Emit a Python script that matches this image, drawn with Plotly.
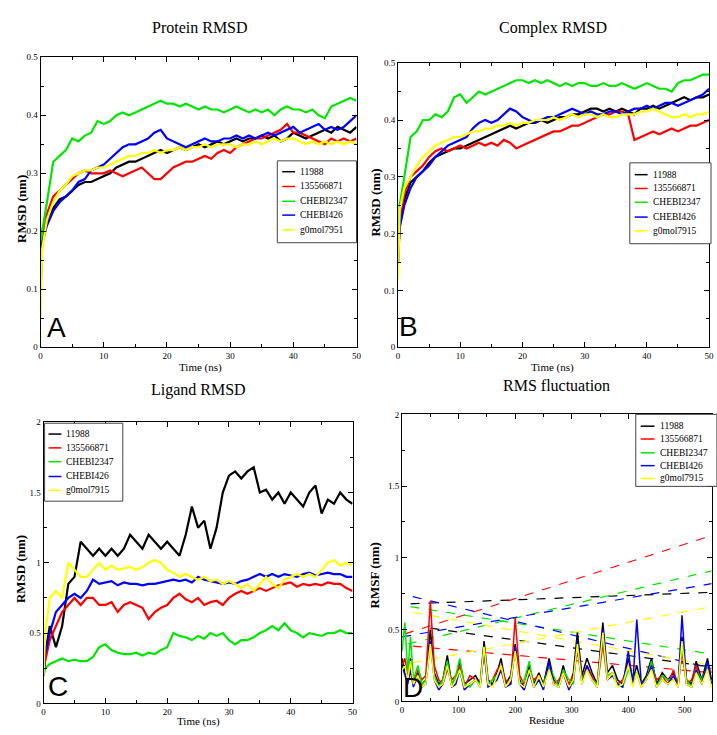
import plotly.graph_objects as go

# ---------------- data ----------------
NAMES_A = ["11988", "135566871", "CHEBI2347", "CHEBI426", "g0mol7951"]
NAMES_BCD = ["11988", "135566871", "CHEBI2347", "CHEBI426", "g0mol7915"]
COLORS = ["#000000", "#ff0000", "#00e600", "#0000ff", "#ffff00"]

TIME = [0, 0.25] + list(range(1, 51))

# Panel A: Protein RMSD (nm)
A_11988 = [0.10, 0.19, 0.22, 0.24, 0.255, 0.26, 0.27, 0.28, 0.285, 0.285, 0.29, 0.295,
           0.30, 0.31, 0.315, 0.32, 0.32, 0.325, 0.33, 0.335, 0.34, 0.335,
           0.34, 0.345, 0.34, 0.345, 0.35, 0.345, 0.35, 0.355, 0.35, 0.355,
           0.36, 0.355, 0.36, 0.36, 0.365, 0.36, 0.365, 0.355, 0.36, 0.37,
           0.365, 0.36, 0.365, 0.37, 0.375, 0.37, 0.38, 0.375, 0.37, 0.38]
A_135566871 = [0.12, 0.20, 0.23, 0.26, 0.27, 0.28, 0.29, 0.30, 0.305, 0.30, 0.30, 0.30,
               0.305, 0.30, 0.295, 0.30, 0.305, 0.31, 0.30, 0.29, 0.29, 0.30,
               0.31, 0.315, 0.32, 0.32, 0.325, 0.33, 0.325, 0.335, 0.34, 0.335,
               0.345, 0.35, 0.355, 0.36, 0.36, 0.365, 0.37, 0.375, 0.385, 0.37,
               0.37, 0.365, 0.36, 0.355, 0.35, 0.36, 0.355, 0.36, 0.355, 0.36]
A_CHEBI2347 = [0.12, 0.20, 0.25, 0.32, 0.33, 0.34, 0.36, 0.355, 0.365, 0.37, 0.39, 0.385,
               0.39, 0.40, 0.405, 0.40, 0.405, 0.41, 0.415, 0.42, 0.425, 0.42,
               0.42, 0.415, 0.42, 0.415, 0.41, 0.415, 0.41, 0.41, 0.405, 0.41,
               0.415, 0.41, 0.405, 0.41, 0.405, 0.41, 0.40, 0.41, 0.415, 0.41,
               0.41, 0.405, 0.41, 0.40, 0.395, 0.415, 0.42, 0.425, 0.43, 0.425]
A_CHEBI426 = [0.10, 0.18, 0.21, 0.235, 0.25, 0.26, 0.27, 0.285, 0.29, 0.305, 0.31, 0.315,
              0.325, 0.335, 0.345, 0.35, 0.35, 0.355, 0.36, 0.37, 0.375, 0.36,
              0.355, 0.35, 0.345, 0.35, 0.355, 0.36, 0.355, 0.355, 0.36, 0.36,
              0.365, 0.36, 0.365, 0.36, 0.365, 0.37, 0.365, 0.37, 0.375, 0.38,
              0.37, 0.375, 0.38, 0.385, 0.375, 0.38, 0.375, 0.38, 0.39, 0.40]
A_g0mol = [0.05, 0.17, 0.22, 0.25, 0.27, 0.28, 0.295, 0.30, 0.305, 0.305, 0.31, 0.31,
           0.315, 0.32, 0.325, 0.33, 0.33, 0.335, 0.335, 0.34, 0.335, 0.34,
           0.34, 0.345, 0.34, 0.345, 0.345, 0.35, 0.345, 0.35, 0.35, 0.35,
           0.345, 0.35, 0.35, 0.355, 0.35, 0.355, 0.36, 0.355, 0.36, 0.36,
           0.355, 0.35, 0.355, 0.35, 0.355, 0.35, 0.355, 0.35, 0.355, 0.35]

# Panel B: Complex RMSD (nm)
B_11988 = [0.15, 0.22, 0.26, 0.29, 0.30, 0.31, 0.325, 0.335, 0.34, 0.345, 0.35, 0.35,
           0.355, 0.36, 0.365, 0.37, 0.375, 0.38, 0.385, 0.39, 0.385, 0.39,
           0.395, 0.395, 0.40, 0.395, 0.40, 0.405, 0.405, 0.41, 0.41, 0.415,
           0.42, 0.42, 0.415, 0.42, 0.415, 0.42, 0.415, 0.41, 0.42, 0.42,
           0.425, 0.42, 0.425, 0.43, 0.435, 0.44, 0.435, 0.44, 0.44, 0.445]
B_135566871 = [0.15, 0.22, 0.27, 0.30, 0.31, 0.32, 0.335, 0.345, 0.35, 0.345, 0.35, 0.355,
               0.35, 0.355, 0.36, 0.355, 0.36, 0.355, 0.365, 0.36, 0.35, 0.355,
               0.36, 0.365, 0.37, 0.375, 0.38, 0.38, 0.385, 0.39, 0.39, 0.395,
               0.40, 0.405, 0.41, 0.41, 0.415, 0.415, 0.41, 0.365, 0.37, 0.375,
               0.38, 0.375, 0.38, 0.385, 0.38, 0.385, 0.39, 0.39, 0.395, 0.40]
B_CHEBI2347 = [0.15, 0.25, 0.30, 0.37, 0.38, 0.40, 0.40, 0.41, 0.405, 0.415, 0.44, 0.445,
               0.43, 0.44, 0.45, 0.445, 0.45, 0.455, 0.46, 0.465, 0.47, 0.47,
               0.465, 0.47, 0.465, 0.47, 0.465, 0.46, 0.465, 0.46, 0.465, 0.465,
               0.46, 0.46, 0.465, 0.46, 0.46, 0.465, 0.46, 0.455, 0.46, 0.465,
               0.46, 0.455, 0.455, 0.45, 0.465, 0.47, 0.47, 0.475, 0.48, 0.48]
B_CHEBI426 = [0.15, 0.21, 0.25, 0.28, 0.30, 0.31, 0.32, 0.335, 0.345, 0.355, 0.36, 0.365,
              0.37, 0.385, 0.395, 0.40, 0.395, 0.40, 0.41, 0.42, 0.415, 0.405,
              0.40, 0.395, 0.40, 0.405, 0.405, 0.41, 0.415, 0.42, 0.415, 0.41,
              0.415, 0.41, 0.41, 0.415, 0.415, 0.41, 0.415, 0.42, 0.42, 0.425,
              0.42, 0.425, 0.43, 0.43, 0.425, 0.43, 0.435, 0.44, 0.445, 0.455]
B_g0mol = [0.12, 0.24, 0.28, 0.30, 0.32, 0.335, 0.345, 0.355, 0.36, 0.365, 0.37, 0.37,
           0.375, 0.38, 0.38, 0.385, 0.385, 0.39, 0.39, 0.395, 0.39, 0.395,
           0.395, 0.40, 0.40, 0.40, 0.405, 0.40, 0.405, 0.41, 0.405, 0.41,
           0.41, 0.405, 0.41, 0.405, 0.405, 0.41, 0.41, 0.41, 0.415, 0.415,
           0.42, 0.415, 0.41, 0.405, 0.405, 0.41, 0.405, 0.41, 0.41, 0.415]

# Panel C: Ligand RMSD (nm)
C_11988 = [0.2, 0.35, 0.55, 0.4, 0.55, 0.85, 0.9, 1.15, 1.1, 1.05, 1.1, 1.05,
           1.1, 1.05, 1.1, 1.2, 1.15, 1.1, 1.2, 1.15, 1.1, 1.15,
           1.1, 1.05, 1.2, 1.4, 1.25, 1.3, 1.1, 1.25, 1.5, 1.62,
           1.65, 1.6, 1.65, 1.68, 1.5, 1.52, 1.45, 1.5, 1.42, 1.5,
           1.45, 1.4, 1.5, 1.55, 1.35, 1.45, 1.42, 1.5, 1.45, 1.42]
C_135566871 = [0.2, 0.3, 0.45, 0.55, 0.65, 0.7, 0.75, 0.7, 0.75, 0.75, 0.7, 0.7,
               0.72, 0.65, 0.7, 0.72, 0.7, 0.68, 0.6, 0.65, 0.68, 0.7,
               0.75, 0.78, 0.74, 0.72, 0.75, 0.7, 0.72, 0.73, 0.7, 0.75,
               0.78, 0.8, 0.78, 0.8, 0.82, 0.8, 0.82, 0.84, 0.85, 0.86,
               0.83, 0.85, 0.84, 0.85, 0.84, 0.86, 0.85, 0.85, 0.82, 0.8]
C_CHEBI2347 = [0.2, 0.25, 0.28, 0.3, 0.32, 0.3, 0.31, 0.3, 0.3, 0.33, 0.4, 0.42,
               0.38, 0.36, 0.35, 0.35, 0.36, 0.34, 0.36, 0.35, 0.38, 0.4,
               0.5, 0.48, 0.47, 0.45, 0.48, 0.46, 0.5, 0.48, 0.5, 0.45,
               0.42, 0.45, 0.45, 0.47, 0.5, 0.52, 0.55, 0.52, 0.57, 0.52,
               0.5, 0.47, 0.5, 0.49, 0.48, 0.5, 0.5, 0.52, 0.5, 0.5]
C_CHEBI426 = [0.2, 0.35, 0.5, 0.65, 0.7, 0.75, 0.78, 0.75, 0.8, 0.88, 0.85, 0.86,
              0.87, 0.84, 0.86, 0.85, 0.85, 0.84, 0.85, 0.85, 0.86, 0.87,
              0.88, 0.87, 0.88, 0.86, 0.9, 0.88, 0.87, 0.86, 0.85, 0.86,
              0.85, 0.87, 0.88, 0.9, 0.92, 0.9, 0.92, 0.9, 0.92, 0.91,
              0.9, 0.92, 0.93, 0.91, 0.92, 0.93, 0.92, 0.92, 0.9, 0.9]
C_g0mol = [0.2, 0.5, 0.75, 0.8, 0.75, 1.0, 0.95, 0.9, 0.9, 0.95, 1.0, 0.95,
           0.98, 0.95, 0.96, 0.97, 0.95, 0.97, 1.0, 1.02, 1.0, 0.95,
           0.93, 0.9, 0.92, 0.9, 0.88, 0.9, 0.87, 0.88, 0.85, 0.87,
           0.85, 0.82, 0.85, 0.8, 0.85, 0.9, 0.85, 0.82, 0.88, 0.9,
           0.92, 0.9, 0.92, 0.9, 0.95, 1.0, 1.02, 0.98, 1.0, 0.98]

# Panel D: RMSF (nm) per residue
RES = [0, 5, 10, 15, 20, 28, 35, 42, 50, 57, 65, 72, 80, 88, 95, 102, 110, 120, 130, 138,
       145, 152, 160, 168, 175, 183, 192, 200, 208, 216, 225, 233, 242, 250, 260, 268, 277,
       285, 295, 303, 310, 318, 327, 336, 345, 355, 363, 372, 381, 390, 400, 408, 415, 423,
       432, 441, 450, 460, 470, 480, 488, 495, 503, 512, 520, 530, 540, 547]
D_11988 = [0.30, 0.20, 0.15, 0.30, 0.15, 0.20, 0.12, 0.15, 0.50, 0.20, 0.12, 0.15, 0.32, 0.12, 0.15,
           0.28, 0.12, 0.15, 0.18, 0.12, 0.42, 0.15, 0.12, 0.20, 0.30, 0.12, 0.18, 0.40, 0.15, 0.10,
           0.25, 0.12, 0.20, 0.12, 0.30, 0.15, 0.12, 0.25, 0.10, 0.20, 0.48, 0.18, 0.30, 0.20, 0.12,
           0.55, 0.20, 0.25, 0.15, 0.12, 0.30, 0.15, 0.25, 0.12, 0.18, 0.30, 0.12, 0.20, 0.15, 0.20,
           0.12, 0.45, 0.15, 0.12, 0.28, 0.15, 0.30, 0.15]
D_135566871 = [0.25, 0.30, 0.18, 0.25, 0.12, 0.22, 0.15, 0.18, 0.70, 0.25, 0.15, 0.12, 0.22, 0.15, 0.18,
               0.25, 0.10, 0.18, 0.15, 0.12, 0.35, 0.12, 0.15, 0.22, 0.25, 0.15, 0.12, 0.58, 0.18, 0.12,
               0.20, 0.15, 0.18, 0.10, 0.25, 0.12, 0.15, 0.20, 0.12, 0.18, 0.35, 0.15, 0.25, 0.18, 0.10,
               0.40, 0.15, 0.20, 0.12, 0.15, 0.25, 0.12, 0.20, 0.10, 0.15, 0.25, 0.15, 0.18, 0.12, 0.22,
               0.10, 0.35, 0.12, 0.15, 0.25, 0.12, 0.25, 0.20]
D_CHEBI2347 = [0.35, 0.55, 0.20, 0.45, 0.15, 0.25, 0.12, 0.15, 0.40, 0.18, 0.10, 0.15, 0.28, 0.12, 0.18,
               0.30, 0.12, 0.10, 0.15, 0.12, 0.38, 0.12, 0.15, 0.18, 0.25, 0.10, 0.15, 0.35, 0.12, 0.15,
               0.28, 0.10, 0.15, 0.12, 0.25, 0.18, 0.10, 0.22, 0.15, 0.12, 0.40, 0.15, 0.22, 0.15, 0.12,
               0.45, 0.18, 0.20, 0.12, 0.10, 0.22, 0.15, 0.20, 0.12, 0.15, 0.28, 0.10, 0.18, 0.15, 0.15,
               0.12, 0.38, 0.15, 0.10, 0.22, 0.15, 0.25, 0.12]
D_CHEBI426 = [0.25, 0.18, 0.12, 0.22, 0.10, 0.18, 0.10, 0.12, 0.42, 0.15, 0.08, 0.12, 0.25, 0.10, 0.12,
              0.22, 0.08, 0.12, 0.15, 0.10, 0.35, 0.10, 0.12, 0.15, 0.22, 0.10, 0.12, 0.38, 0.12, 0.08,
              0.20, 0.10, 0.15, 0.08, 0.28, 0.12, 0.10, 0.20, 0.08, 0.15, 0.42, 0.12, 0.25, 0.15, 0.10,
              0.50, 0.15, 0.18, 0.12, 0.10, 0.35, 0.12, 0.57, 0.12, 0.15, 0.25, 0.10, 0.15, 0.12, 0.18,
              0.10, 0.60, 0.12, 0.10, 0.22, 0.12, 0.28, 0.12]
D_g0mol = [0.22, 0.25, 0.15, 0.28, 0.12, 0.18, 0.10, 0.12, 0.40, 0.15, 0.10, 0.12, 0.25, 0.10, 0.15,
           0.22, 0.10, 0.12, 0.15, 0.10, 0.38, 0.12, 0.10, 0.18, 0.25, 0.10, 0.15, 0.35, 0.12, 0.10,
           0.22, 0.10, 0.18, 0.10, 0.22, 0.12, 0.10, 0.20, 0.10, 0.15, 0.40, 0.12, 0.22, 0.15, 0.10,
           0.48, 0.15, 0.20, 0.10, 0.12, 0.25, 0.10, 0.20, 0.10, 0.15, 0.22, 0.10, 0.15, 0.12, 0.15,
           0.10, 0.42, 0.12, 0.10, 0.20, 0.12, 0.22, 0.10]

# chain-wrap connector segments in panel D (x: residue, y: RMSF)
D_LINK_X = [[15, 547, None, 50, 547],
            [5, 547, None, 19, 547],
            [10, 547, None, 15, 547],
            [0, 547, None, 19, 547],
            [20, 547, None, 20, 547]]
D_LINK_Y = [[0.68, 0.76, None, 0.51, 0.24],
            [0.47, 1.155, None, 0.385, 0.20],
            [0.40, 0.91, None, 0.66, 0.33],
            [0.45, 0.82, None, 0.73, 0.23],
            [0.27, 0.66, None, 0.62, 0.25]]

A_SERIES = [A_11988, A_135566871, A_CHEBI2347, A_CHEBI426, A_g0mol]
B_SERIES = [B_11988, B_135566871, B_CHEBI2347, B_CHEBI426, B_g0mol]
C_SERIES = [C_11988, C_135566871, C_CHEBI2347, C_CHEBI426, C_g0mol]
D_SERIES = [D_11988, D_135566871, D_CHEBI2347, D_CHEBI426, D_g0mol]

# ---------------- layout helpers ----------------
W, H = 717, 735
def px(x):
    return x / W
def py(y):
    return 1 - y / H

SERIF = "Liberation Serif"
SANS = "Liberation Sans"

fig = go.Figure()

def add_lines(xs, series, axis_idx, width):
    xa = "x" if axis_idx == 1 else "x%d" % axis_idx
    ya = "y" if axis_idx == 1 else "y%d" % axis_idx
    for s, c in zip(series, COLORS):
        fig.add_trace(go.Scatter(x=xs, y=s, mode="lines", xaxis=xa, yaxis=ya,
                                 line=dict(color=c, width=width), showlegend=False,
                                 hoverinfo="skip"))

add_lines(TIME, A_SERIES, 1, 2.2)
add_lines(TIME, B_SERIES, 2, 2.2)
add_lines(TIME, C_SERIES, 3, 2.2)
for lx, ly, c in zip(D_LINK_X, D_LINK_Y, COLORS):
    fig.add_trace(go.Scatter(x=lx, y=ly, mode="lines", xaxis="x4", yaxis="y4",
                             line=dict(color=c, width=1.2, dash="dash"), showlegend=False,
                             hoverinfo="skip"))
add_lines(RES, D_SERIES, 4, 1.5)

def axis(domain, rng, dtick, minor_dtick, anchor):
    return dict(domain=domain, range=rng, dtick=dtick, tick0=0, anchor=anchor,
                showline=True, linecolor="black", linewidth=1, mirror="allticks",
                ticks="inside", ticklen=5, tickwidth=1, tickcolor="black",
                showgrid=False, zeroline=False,
                tickfont=dict(family=SERIF, size=9, color="black"),
                minor=dict(ticks="inside", ticklen=3, tickcolor="black", dtick=minor_dtick))

PANELS = [  # (x0, x1, y_top, y_bottom) in pixels
    (39, 358, 53, 347),
    (400, 714, 59, 347),
    (42, 354, 423, 708),
    (404, 717, 415, 706),
]
XR = [([0, 50], 10, 5), ([0, 50], 10, 5), ([0, 50], 10, 5), ([0, 548], 100, 50)]
YR = [([0, 0.5], 0.1, 0.05), ([0, 0.5], 0.1, 0.05), ([0, 2], 0.5, 0.25), ([0, 2], 0.5, 0.25)]

lay = {}
for i, ((x0, x1, yt, yb), xr, yr) in enumerate(zip(PANELS, XR, YR), start=1):
    xk = "xaxis" if i == 1 else "xaxis%d" % i
    yk = "yaxis" if i == 1 else "yaxis%d" % i
    xname = "x" if i == 1 else "x%d" % i
    yname = "y" if i == 1 else "y%d" % i
    lay[xk] = axis([px(x0), px(x1)], xr[0], xr[1], xr[2], yname)
    lay[yk] = axis([py(yb), py(yt)], yr[0], yr[1], yr[2], xname)

annotations = []
def txt(text, x, y, size, family=SERIF, angle=0, bold=False, xanchor="center", yanchor="middle"):
    if bold:
        text = "<b>%s</b>" % text
    annotations.append(dict(text=text, x=px(x), y=py(y), xref="paper", yref="paper",
                            showarrow=False, textangle=angle, xanchor=xanchor, yanchor=yanchor,
                            font=dict(family=family, size=size, color="black")))

# titles
txt("Protein RMSD", 200, 23, 16)
txt("Complex RMSD", 556, 23, 16)
txt("Ligand RMSD", 198, 390, 16)
txt("RMS fluctuation", 560, 386, 16)
# axis titles
txt("Time (ns)", 200, 367, 11)
txt("Time (ns)", 556, 367, 11)
txt("Time (ns)", 198, 726, 11)
txt("Residue", 550, 725, 11)
txt("RMSD (nm)", 19, 207, 13, angle=-90, bold=True)
txt("RMSD (nm)", 377, 200, 13, angle=-90, bold=True)
txt("RMSD (nm)", 18, 572, 13, angle=-90, bold=True)
txt("RMSF (nm)", 376, 578, 13, angle=-90, bold=True)
# panel letters
txt("A", 55, 327, 28, family=SANS)
txt("B", 411, 326, 28, family=SANS)
txt("C", 57, 691, 28, family=SANS)
txt("D", 415, 692, 28, family=SANS)

# manual legends (box, sample line span, text x, entry y positions)
LEGENDS = [
    (NAMES_A, (278, 158, 358, 241), (283, 296), 299, [169, 184, 199, 213, 228]),
    (NAMES_BCD, (634, 160, 716, 242), (639, 652), 655, [172, 186, 200, 215, 229]),
    (NAMES_BCD, (43, 424, 122, 503), (47, 60), 63, [435, 449, 463, 478, 492]),
    (NAMES_BCD, (640, 415, 722, 488), (645, 659), 662, [427, 440, 454, 467, 480]),
]
shapes = []
for names, (bx0, by0, bx1, by1), (sx0, sx1), tx, ys in LEGENDS:
    shapes.append(dict(type="rect", xref="paper", yref="paper", x0=px(bx0), x1=px(bx1),
                       y0=py(by1), y1=py(by0), line=dict(color="#444444", width=1),
                       fillcolor="white", layer="above"))
    for name, c, yy in zip(names, COLORS, ys):
        shapes.append(dict(type="line", xref="paper", yref="paper", x0=px(sx0), x1=px(sx1),
                           y0=py(yy), y1=py(yy), line=dict(color=c, width=1.5), layer="above"))
        txt(name, tx, yy, 9.5, xanchor="left")

lay.update(dict(width=W, height=H, margin=dict(l=0, r=0, t=0, b=0),
                paper_bgcolor="white", plot_bgcolor="white", showlegend=False,
                annotations=annotations, shapes=shapes))
fig.update_layout(**lay)
fig.write_html("out.html", config={"displayModeBar": False},
               post_script="document.body.style.margin='0px';")
